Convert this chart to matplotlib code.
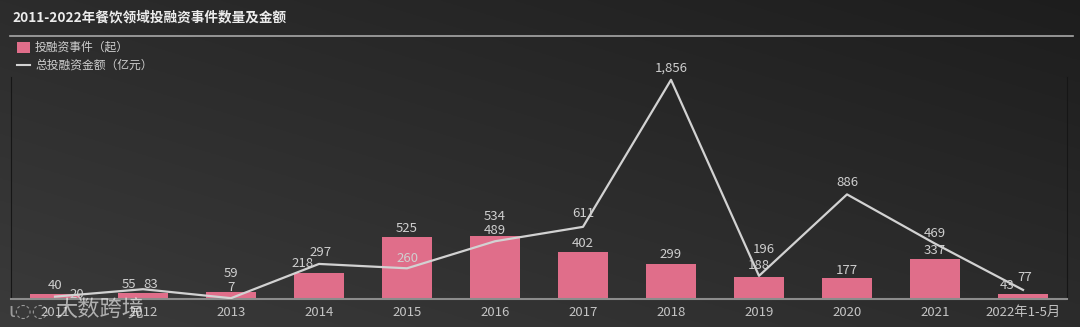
import numpy as np
import matplotlib.pyplot as plt

plt.rcParams['font.family'] = ['Noto Sans CJK SC', 'DejaVu Sans']

years = ['2011', '2012', '2013', '2014', '2015', '2016', '2017', '2018',
         '2019', '2020', '2021', '2022年1-5月']
deals = [40, 55, 59, 218, 525, 534, 402, 299, 188, 177, 337, 43]
amount = [20, 83, 7, 297, 260, 489, 611, 1856, 196, 886, 469, 77]

# label offsets in pixels (dx, dy)
deal_off = [(0, 9), (-14, 8), (0, 19), (-16, 10), (0, 9), (0, 19),
            (0, 8), (0, 9), (0, 11), (0, 8), (0, 9), (-16, 8)]
amt_off = [(22, 2), (8, 5), (0, 11), (2, 11), (0, 10), (0, 11),
           (0, 13), (0, 12), (5, 26), (0, 12), (0, 10), (2, 12)]

pink = '#e06e8a'
grey = '#d2d2d2'
txt = '#cfcfcf'

W, H = 1080, 327
fig = plt.figure(figsize=(W / 100, H / 100), dpi=100)

# background gradient, lighter bottom-left to darker top-right
bg = fig.add_axes([0, 0, 1, 1])
yy, xx = np.mgrid[0:1:200j, 0:1:400j]
g = 0.5 * (1 - xx) + 0.5 * yy
shade = 0.115 + 0.115 * g
img = np.dstack([shade, shade, shade])
bg.imshow(img, aspect='auto', extent=[0, 1, 0, 1], origin='upper')
bg.set_xlim(0, 1)
bg.set_ylim(0, 1)
bg.axis('off')

# title and rule
fig.text(12 / W, 1 - 17 / H, '2011-2022年餐饮领域投融资事件数量及金额',
         color='#ececec', fontsize=9.8, fontweight='bold', va='center', ha='left')
bg.plot([10 / W, 1073 / W], [1 - 36 / H, 1 - 36 / H], color='#a8a8a8', lw=1.2)

# legend
bg.add_patch(plt.Rectangle((17 / W, 1 - 53 / H), 13 / W, 11 / H,
                           color=pink, lw=0))
fig.text(35 / W, 1 - 47 / H, '投融资事件（起）', color=txt, fontsize=8.5,
         va='center', ha='left')
bg.plot([17 / W, 30 / W], [1 - 65 / H, 1 - 65 / H], color=grey, lw=1.5)
fig.text(35 / W, 1 - 65 / H, '总投融资金额（亿元）', color=txt, fontsize=8.5,
         va='center', ha='left')

ax = fig.add_axes([11 / W, 28 / H, (1067 - 11) / W, (299 - 77) / H])
ax.set_facecolor('none')
x = np.arange(len(years))
ax.bar(x, deals, width=0.56, color=pink, zorder=2)
ax.plot(x, amount, color=grey, lw=1.6, zorder=3)

for i in range(len(years)):
    ax.annotate(str(deals[i]), (x[i], deals[i]), xytext=deal_off[i],
                textcoords='offset pixels', ha='center', va='center',
                color=txt, fontsize=9.5, zorder=4)
    ax.annotate(format(amount[i], ','), (x[i], amount[i]), xytext=amt_off[i],
                textcoords='offset pixels', ha='center', va='center',
                color=txt, fontsize=9.5, zorder=4)

ax.set_xlim(-0.5, len(years) - 0.5)
ax.set_ylim(0, 1880)
ax.set_xticks(x)
ax.set_xticklabels(years, color='#c4c4c4', fontsize=9.5, fontweight='medium')
ax.tick_params(axis='x', length=0, pad=5)
ax.set_yticks([])
ax.spines['top'].set_visible(False)
ax.spines['bottom'].set_color('#8c8c8c')
ax.spines['bottom'].set_linewidth(1.5)
ax.spines['left'].set_color('#161616')
ax.spines['right'].set_color('#161616')

# watermark
fig.text(8 / W, 1 - 311 / H, 'ɩ◌◌', color='white', alpha=0.5, fontsize=14,
         va='center', ha='left', family=['DejaVu Sans'])
fig.text(55 / W, 1 - 310 / H, '大数跨境', color='white', alpha=0.6,
         fontsize=16, va='center', ha='left')

fig.savefig('out.png', dpi=100)
